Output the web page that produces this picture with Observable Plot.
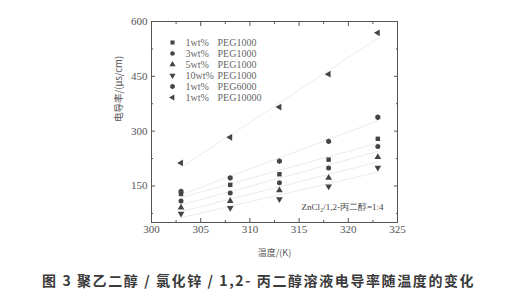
<!DOCTYPE html>
<html>
<head>
<meta charset="utf-8">
<script src="https://cdn.jsdelivr.net/npm/d3@7"></script>
<script src="https://cdn.jsdelivr.net/npm/@observablehq/plot@0.6"></script>
<style>
  html, body { margin: 0; padding: 0; background: #fff; }
  #wrap { position: relative; width: 506px; height: 297px; overflow: hidden; background: #fff; }
  #chart { position: absolute; left: 0; top: 0; }
  #legend { position: absolute; left: 160px; top: 30px; }
  #caption { position: absolute; left: 42px; top: 270px; font-family: "Noto Sans CJK SC", sans-serif; font-weight: bold; font-size: 14px; color: #3a3a3a; letter-spacing: 1.6px; white-space: pre; }
</style>
</head>
<body>
<div id="wrap">
  <div id="chart"></div>
  <div id="legend"></div>
  <div id="caption">图 3 聚乙二醇 / 氯化锌 / 1,2- 丙二醇溶液电导率随温度的变化</div>
</div>
<script>
// Temperatures (K)
const temps = [303, 308, 313, 318, 323];
// Conductivity (μs/cm) per series
const wt1_PEG1000  = [128, 153, 182, 222, 279];
const wt3_PEG1000  = [109, 131, 159, 199, 258];
const wt5_PEG1000  = [ 91, 109, 138, 172, 229];
const wt10_PEG1000 = [ 74,  90, 114, 149, 200];
const wt1_PEG6000  = [135, 172, 218, 272, 338];
const wt1_PEG10000 = [213, 283, 366, 456, 569];

const seriesConc  = ["1wt%", "3wt%", "5wt%", "10wt%", "1wt%", "1wt%"];
const seriesPEG   = ["PEG1000", "PEG1000", "PEG1000", "PEG1000", "PEG6000", "PEG10000"];
const seriesVals  = [wt1_PEG1000, wt3_PEG1000, wt5_PEG1000, wt10_PEG1000, wt1_PEG6000, wt1_PEG10000];
const seriesSym   = ["square", "circle", "triangle", "triangle", "hexagon", "triangle"];
const seriesRot   = [0, 0, 0, 180, 0, -90];

const xTicks = [300, 305, 310, 315, 320, 325];
const xMinor = [302.5, 307.5, 312.5, 317.5, 322.5];
const yTicks = [150, 300, 450, 600];
const yMinor = [75, 225, 375, 525];

const yLabel = "电导率/(μs/cm)";
const xLabel = "温度/(K)";
const note = "ZnCl\u2082/1,2-丙二醇=1:4";

const series = seriesVals.map((vals, i) => ({
  i, name: seriesConc[i] + " " + seriesPEG[i],
  rows: temps.map((t, j) => ({t, v: vals[j]}))
}));

const ink = "#444";
const serif = "Liberation Serif, serif";
const axStyle = {stroke: "#555", label: null, text: null};
const marks = [
  Plot.frame({stroke: "#555", strokeWidth: 1}),
  // inward ticks on all sides
  Plot.axisX(xTicks, {...axStyle, anchor: "bottom", tickSize: -4}),
  Plot.axisX(xMinor, {...axStyle, anchor: "bottom", tickSize: -2}),
  Plot.axisX(xTicks, {...axStyle, anchor: "top", tickSize: -4}),
  Plot.axisX(xMinor, {...axStyle, anchor: "top", tickSize: -2}),
  Plot.axisY(yTicks, {...axStyle, anchor: "left", tickSize: -4}),
  Plot.axisY(yMinor, {...axStyle, anchor: "left", tickSize: -2}),
  Plot.axisY(yTicks, {...axStyle, anchor: "right", tickSize: -4}),
  Plot.axisY(yMinor, {...axStyle, anchor: "right", tickSize: -2}),
  // tick labels
  Plot.text(xTicks, {x: d => d, text: d => String(d), frameAnchor: "bottom", dy: 10, fontSize: 11, fill: "#555", fontFamily: serif}),
  Plot.text(yTicks, {y: d => d, text: d => String(d), frameAnchor: "left", textAnchor: "end", dx: -4, fontSize: 11, fill: "#555", fontFamily: serif}),
];
for (const s of series) {
  marks.push(Plot.linearRegressionY(s.rows, {x: "t", y: "v", stroke: "#ececec", strokeWidth: 1, ci: 0}));
}
for (const s of series) {
  marks.push(Plot.dot(s.rows, {x: "t", y: "v", symbol: seriesSym[s.i], rotate: seriesRot[s.i], r: 2.5, fill: ink, stroke: "none"}));
}
marks.push(
  Plot.text([yLabel], {text: d => d, frameAnchor: "left", rotate: -90, dx: -33, fontSize: 9.5, fill: "#555", fontFamily: "Noto Sans CJK SC"}),
  Plot.text([xLabel], {text: d => d, frameAnchor: "bottom", dy: 33, fontSize: 9, fill: "#555", fontFamily: "Noto Sans CJK SC"}),
  Plot.text([note], {text: d => d, frameAnchor: "bottom-right", textAnchor: "end", dx: -14, dy: -13, fontSize: 9, fill: "#444", fontFamily: serif})
);

const chart = Plot.plot({
  width: 506, height: 262,
  marginLeft: 151, marginRight: 109, marginTop: 21, marginBottom: 40,
  x: {domain: [300, 325]},
  y: {domain: [50, 600]},
  style: {fontFamily: serif, fontSize: "11px", color: "#555", background: "transparent"},
  marks
});
document.getElementById("chart").append(chart);

const legendRows = series.map(s => ({key: String(s.i), conc: seriesConc[s.i], peg: seriesPEG[s.i], sym: seriesSym[s.i], rot: seriesRot[s.i]}));
const legend = Plot.plot({
  width: 120, height: 80,
  margin: 0,
  y: {type: "point", domain: legendRows.map(d => d.key), range: [6.7, 73.3], axis: null},
  style: {fontFamily: serif, fontSize: "10px", color: "#666", background: "transparent"},
  marks: [
    ...legendRows.map(d => Plot.dot([d], {y: "key", frameAnchor: "left", dx: 12, symbol: d.sym, rotate: d.rot, r: 2.3, fill: ink, stroke: "none"})),
    Plot.text(legendRows, {y: "key", text: "conc", frameAnchor: "left", textAnchor: "start", dx: 25, fill: "#666", fontSize: 10, fontFamily: serif}),
    Plot.text(legendRows, {y: "key", text: "peg", frameAnchor: "left", textAnchor: "start", dx: 57, fill: "#666", fontSize: 10, fontFamily: serif})
  ]
});
document.getElementById("legend").append(legend);
</script>
</body>
</html>
